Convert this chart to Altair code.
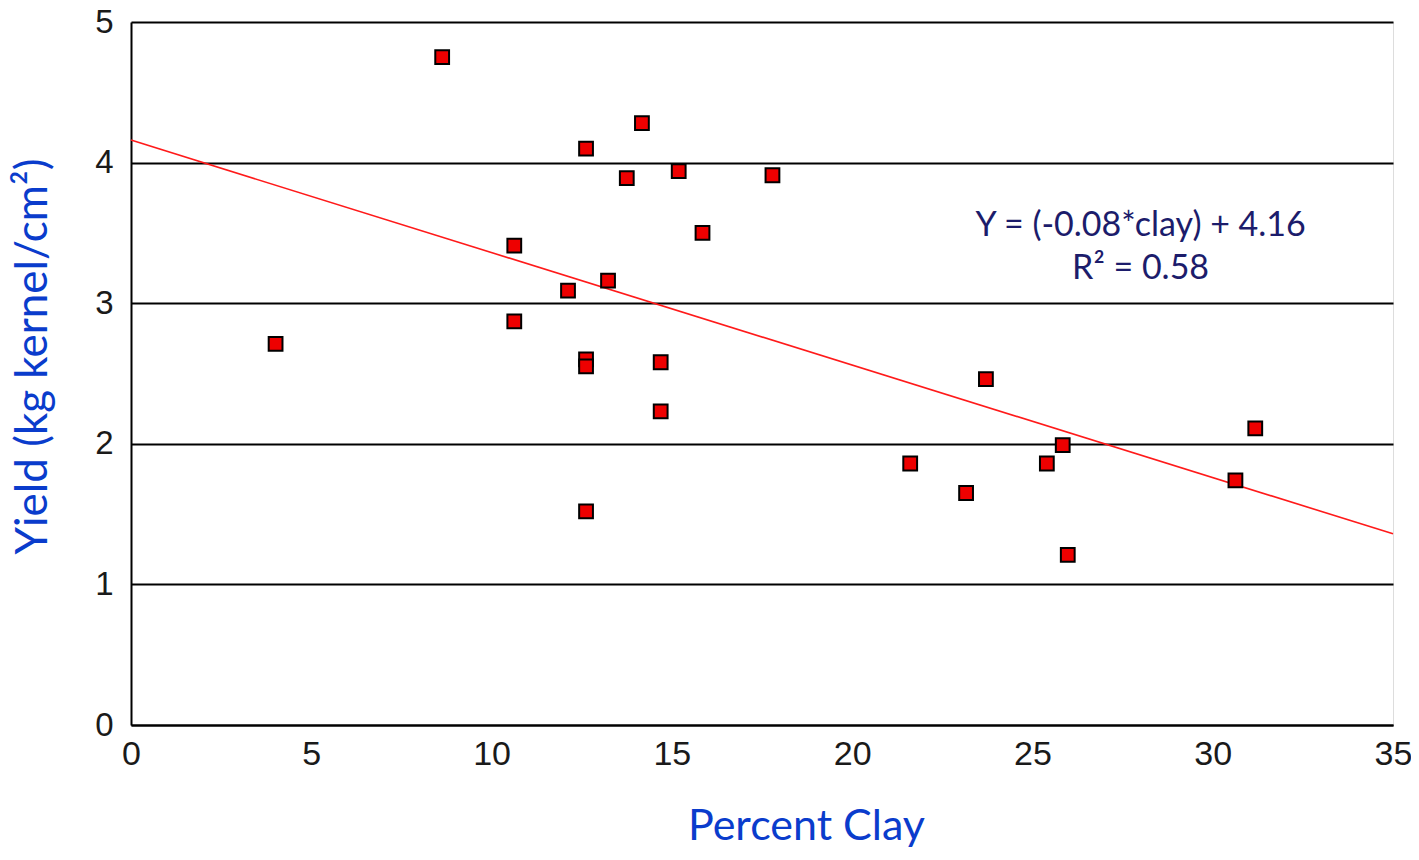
import altair as alt
import pandas as pd

clay = [8.63, 12.62, 14.17, 13.75, 15.19, 17.79, 15.85, 10.63, 12.12, 13.23,
        10.63, 4.01, 12.62, 12.62, 14.69, 14.69, 12.62, 23.71, 21.61, 23.16,
        25.40, 25.84, 25.98, 30.63, 31.18]
yield_ = [4.75, 4.10, 4.28, 3.89, 3.94, 3.91, 3.50, 3.41, 3.09, 3.16,
          2.87, 2.71, 2.60, 2.55, 2.58, 2.23, 1.52, 2.46, 1.86, 1.65,
          1.86, 1.99, 1.21, 1.74, 2.11]

fit_x = [0, 35]
slope = -0.08
intercept = 4.16

ann_text = ["Y = (-0.08*clay) + 4.16", "R\u00b2 = 0.58"]
ann_x = [28.0, 28.0]
ann_y = [3.55, 3.24]

pts = pd.DataFrame({"clay": clay, "yield": yield_})
fit = pd.DataFrame({"clay": fit_x, "yield": [intercept + slope * v for v in fit_x]})
ann = pd.DataFrame({"t": ann_text, "clay": ann_x, "yield": ann_y})

xscale = alt.Scale(domain=[0, 35], nice=False, zero=False)
yscale = alt.Scale(domain=[0, 5], nice=False)

xaxis = alt.Axis(values=[0, 5, 10, 15, 20, 25, 30, 35], format="d", grid=False, ticks=False,
                 domain=True, domainColor="black", domainWidth=2,
                 labelFont="Liberation Sans", labelFontSize=34, labelColor="#1a1a1a",
                 labelPadding=12, labelFlush=False,
                 title="Percent Clay", titleFont="Lato", titleFontSize=43,
                 titleFontWeight="normal", titleColor="#0a3ccc", titlePadding=34,
                 titleX=675, titleAnchor="middle")
yaxis = alt.Axis(values=[0, 1, 2, 3, 4, 5], format="d", grid=True, gridColor="black", gridWidth=2,
                 gridOpacity=1, ticks=False, domain=True, domainColor="black", domainWidth=2,
                 labelFont="Liberation Sans", labelFontSize=33, labelColor="#1a1a1a",
                 labelPadding=18, labelFlush=False,
                 title="Yield (kg kernel/cm\u00b2)", titleFont="Lato", titleFontSize=44,
                 titleFontWeight="normal", titleColor="#0a3ccc", titlePadding=39,
                 titleY=334, titleAnchor="middle")

base_x = alt.X("clay:Q", scale=xscale, axis=xaxis)
base_y = alt.Y("yield:Q", scale=yscale, axis=yaxis)

line = alt.Chart(fit).mark_line(color="#ff1a1a", strokeWidth=1.6).encode(x=base_x, y=base_y)

points = alt.Chart(pts).mark_square(size=190, color="#ee0000", stroke="black",
                                     strokeWidth=2, opacity=1, fillOpacity=1).encode(
    x=alt.X("clay:Q", scale=xscale), y=alt.Y("yield:Q", scale=yscale))

text = alt.Chart(ann).mark_text(font="Lato", fontSize=34, color="#1c1c6b",
                                align="center", baseline="middle").encode(
    x=alt.X("clay:Q", scale=xscale), y=alt.Y("yield:Q", scale=yscale), text="t:N")

chart = alt.layer(line, points, text).properties(
    width=1262, height=703,
    autosize=alt.AutoSizeParams(type="none"),
    padding={"left": 123, "top": 14, "right": 18, "bottom": 130},
).configure_view(stroke=None).configure(background="white")

chart.save("out.html", embed_options={"renderer": "svg", "actions": False})
